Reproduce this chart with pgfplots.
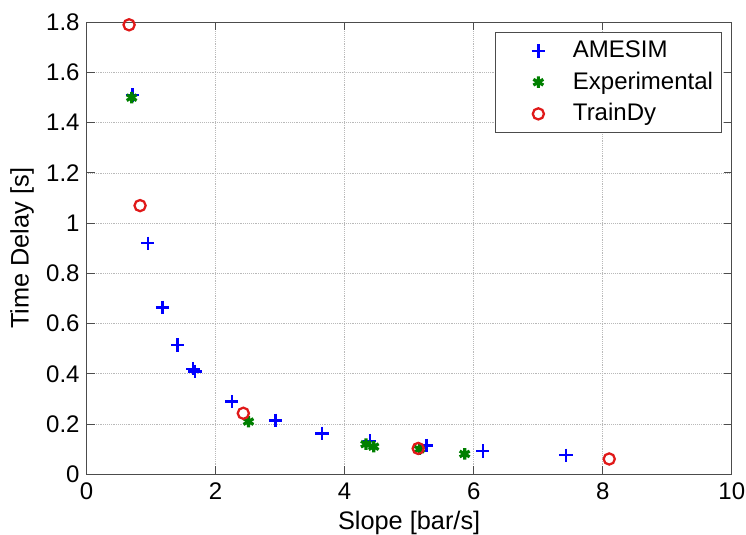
\documentclass[border=0pt]{standalone}
\usepackage{fontspec}
\setmainfont{Liberation Sans}
\usepackage{pgfplots}
\pgfplotsset{compat=1.18}
\definecolor{mblue}{rgb}{0,0,1}
\definecolor{mgreen}{rgb}{0,0.5,0}
\definecolor{mred}{rgb}{0.88,0.1,0.1}
\begin{document}
\fontsize{18}{20}\selectfont
\begin{tikzpicture}[x=0.75pt,y=0.75pt]
\begin{axis}[
  at={(0,0)}, anchor=origin,
  scale only axis,
  width=484pt, height=339pt,
  xmin=0, xmax=10, ymin=0, ymax=1.8,
  xtick={0,2,...,10},
  ytick={0,0.2,0.4,0.6,0.8,1,1.2,1.4,1.6,1.8},
  /pgf/number format/assume math mode=true,
  ticklabel style={font=\fontsize{18}{20}\selectfont},
  label style={font=\fontsize{19}{21}\selectfont},
  xlabel={Slope [bar/s]},
  ylabel={Time Delay [s]},
  xlabel style={at={(axis description cs:0.5,-0.1084)}, anchor=center},
  ylabel style={at={(axis description cs:-0.1,0.5)}, anchor=center},
  yticklabel style={xshift=1pt},
  grid=major,
  major grid style={gray!55, densely dotted, line width=0.6pt},
  axis line style={gray!60!black, line width=0.7pt},
  tick style={gray!60!black, line width=0.7pt},
  tick align=inside,
  major tick length=6pt,
  legend style={at={(0.984,0.978)}, anchor=north east, draw=gray!60!black, line width=0.7pt,
    font=\fontsize{18}{20}\selectfont, row sep=4pt, inner xsep=4pt, inner ysep=4pt},
  legend cell align=left,
  legend image code/.code={\path (0,0) (1.75cm,0); \draw[#1] plot coordinates {(0.95cm,0cm)};},
]
\addplot[only marks, mark=+, mark size=5pt, mblue, line width=1.8pt] coordinates {
(0.71,1.51) (0.95,0.92) (1.18,0.665) (1.41,0.515) (1.65,0.42) (1.68,0.41)
(2.25,0.29) (2.93,0.215) (3.65,0.163) (4.39,0.133) (5.27,0.115) (6.14,0.093) (7.43,0.076)
};
\addlegendentry{AMESIM}
\addplot[only marks, mark=asterisk, mark size=4.3pt, mgreen, line width=2.4pt] coordinates {
(0.70,1.50) (2.51,0.21) (4.33,0.12) (4.45,0.11) (5.16,0.10) (5.86,0.081)
};
\addlegendentry{Experimental}
\addplot[only marks, mark=o, mark size=4.2pt, mred, line width=1.7pt] coordinates {
(0.66,1.79) (0.83,1.07) (2.43,0.243) (5.14,0.103) (8.10,0.061)
};
\addlegendentry{TrainDy}
\end{axis}
\pgfresetboundingbox
\path[use as bounding box] (-86.5,-60.7) rectangle (659.5,474.3);
\end{tikzpicture}
\end{document}
